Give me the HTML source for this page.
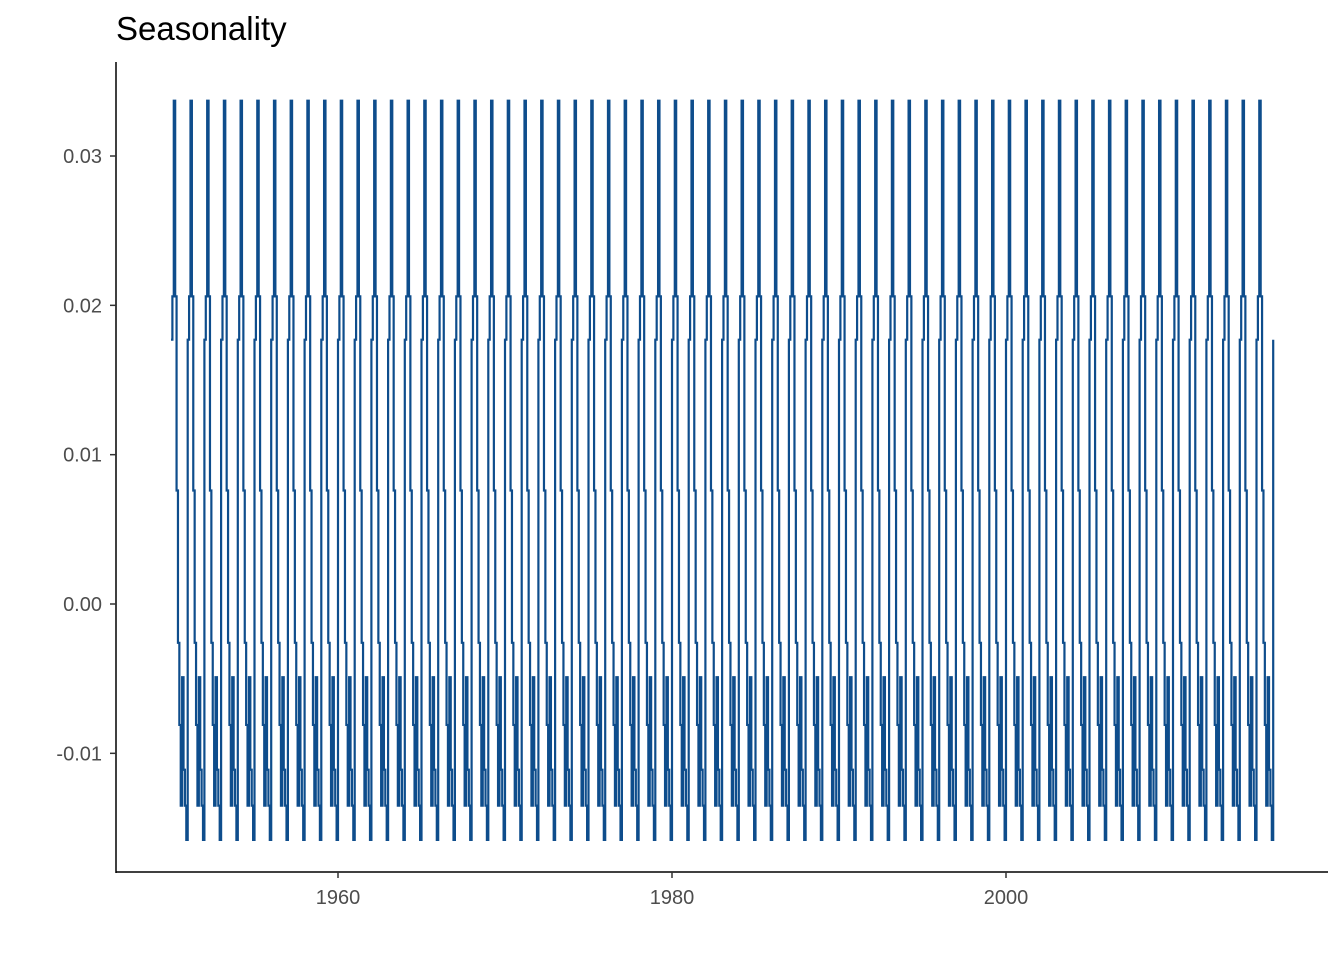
<!DOCTYPE html>
<html><head><meta charset="utf-8"><style>
body{margin:0;background:#fff;}
svg text{font-family:"Liberation Sans",sans-serif;}
</style></head><body>
<svg id="chart" width="1344" height="960" xmlns="http://www.w3.org/2000/svg">
<text x="116" y="40" font-size="33" fill="#000">Seasonality</text>
<g id="axes"></g>
<path id="line" fill="none" stroke="#0e4d8c" stroke-width="2.2"/>
</svg>
<script>
const seasonalPattern=[0.0177,0.0206,0.0337,0.0206,0.0076,-0.0026,-0.0081,-0.0135,-0.0049,-0.0111,-0.0135,-0.0158];
const startYear=1950, endYear=2016;
const xTicks=[1960,1980,2000];
const yTicks=[-0.01,0.00,0.01,0.02,0.03];
const yTickLabels=["-0.01","0.00","0.01","0.02","0.03"];
const X=v=>171+(v-1950)*16.7;
const Y=v=>604-v*14933;
const ns="http://www.w3.org/2000/svg";
const ax=document.getElementById('axes');
function mk(t,a){const e=document.createElementNS(ns,t);for(const k in a)e.setAttribute(k,a[k]);ax.appendChild(e);return e;}
let l=mk('line',{x1:116,y1:62,x2:116,y2:873,stroke:'#000','stroke-width':1.5});


l=mk('line',{x1:116,y1:872,x2:1328,y2:872,stroke:'#000','stroke-width':1.5});


yTicks.forEach((v,i)=>{
 const t=mk('line',{x1:110,x2:116,y1:Y(v),y2:Y(v),stroke:'#333','stroke-width':1.5});
 
 
 const tx=mk('text',{x:102,y:Y(v)+7,'text-anchor':'end','font-size':20,fill:'#4d4d4d'});
 tx.textContent=yTickLabels[i];
 
 
});
xTicks.forEach(v=>{
 const t=mk('line',{x1:X(v),x2:X(v),y1:872,y2:878,stroke:'#333','stroke-width':1.5});
 
 
 const tx=mk('text',{x:X(v),y:904,'text-anchor':'middle','font-size':20,fill:'#4d4d4d'});
 tx.textContent=v;
 
 
});
let d='';const n=(endYear-startYear)*12;
for(let i=0;i<=n;i++){const v=seasonalPattern[i%12];const x=X(startYear+i/12).toFixed(2),y=Y(v).toFixed(2);
 if(i===0)d+='M'+x+','+y;else d+='H'+x+'V'+y;}
document.getElementById('line').setAttribute('d',d);
</script>
</body></html>
